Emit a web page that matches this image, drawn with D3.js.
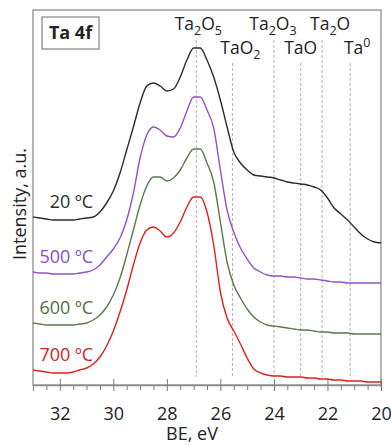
<!DOCTYPE html>
<html>
<head>
<meta charset="utf-8">
<script src="https://cdn.jsdelivr.net/npm/d3@7"></script>
<style>
  body { margin: 0; background: #fff; }
  text { font-family: "Open Sans", sans-serif; fill: #222; }
</style>
</head>
<body>
<div id="chart"></div>
<script>
// binding energy grid (eV), high -> low like the figure
const bindingEnergy = [33, 32.75, 32.5, 32.25, 32, 31.75, 31.5, 31.25, 31, 30.75, 30.5, 30.25,
  30, 29.75, 29.5, 29.25, 29, 28.75, 28.5, 28.25, 28, 27.75, 27.5, 27.25, 27, 26.75, 26.5,
  26.25, 26, 25.75, 25.5, 25.25, 25, 24.75, 24.5, 24.25, 24, 23.75, 23.5, 23.25, 23, 22.75,
  22.5, 22.25, 22, 21.75, 21.5, 21.25, 21, 20.75, 20.5, 20.25, 20];

// stacked intensities (a.u.)
const int20 = [168, 167, 166, 165, 165, 165, 165, 166, 167, 168, 173, 182, 194, 212, 235, 258,
  282, 299, 302, 299, 294, 296, 308, 325, 337, 337, 325, 308, 285, 258, 233, 222, 215, 210,
  209, 208, 207, 205, 203, 202, 201, 200, 198, 195, 187, 177, 171, 165, 158, 151, 146, 143, 142];
const int500 = [113, 112, 112, 111, 111, 111, 111, 112, 113, 115, 120, 128, 136, 147, 165, 192,
  227, 250, 258, 255, 249, 248, 257, 274, 288, 288, 275, 257, 215, 175, 153, 137, 126, 117,
  113, 110, 109, 109, 108, 108, 107, 106, 106, 105, 104, 103, 103, 102, 102, 102, 102, 102, 102];
const int600 = [62, 61, 60, 60, 60, 60, 60, 61, 62, 65, 70, 78, 90, 107, 130, 155, 180, 199,
  208, 208, 204, 207, 215, 227, 236, 236, 222, 203, 163, 123, 100, 87, 76, 68, 63, 60, 59, 58,
  57, 56, 55, 55, 54, 53, 53, 52, 52, 52, 51, 51, 51, 51, 51];
const int700 = [15, 14, 13, 12, 12, 12, 13, 15, 17, 21, 28, 39, 54, 73, 95, 120, 142, 155, 158,
  154, 148, 152, 163, 178, 188, 188, 173, 140, 93, 67, 54, 41, 27, 16, 12, 10, 9, 9, 8, 8, 8,
  7, 7, 6, 6, 5, 5, 4, 4, 4, 3, 3, 3];

const seriesNames = ["20 ºC", "500 ºC", "600 ºC", "700 ºC"];
const seriesValues = [int20, int500, int600, int700];
const seriesColors = ["#2b2b2b", "#9352c6", "#5b7a4c", "#e0201c"];
const labelColors = ["#2b2b2b", "#8a4cbe", "#4f6e40", "#cc1f1f"];

// reference positions of Ta species (eV)
const oxideNames = ["Ta_2O_5", "TaO_2", "Ta_2O_3", "TaO", "Ta_2O", "Ta^0"];
const oxideBE = [26.9, 25.55, 24.0, 23.0, 22.2, 21.15];

const xTicks = [32, 30, 28, 26, 24, 22, 20];

const W = 391, H = 445;
const svg = d3.select("#chart").append("svg")
  .attr("width", W).attr("height", H)
  .style("background", "#fff");

const pLeft = 33, pRight = 381, pTop = 10, pBottom = 385;

const x = d3.scaleLinear().domain([33, 20]).range([pLeft, pRight]);
const y = d3.scaleLinear().domain([0, 375]).range([pBottom, pTop]);

// frame
svg.append("rect")
  .attr("x", pLeft).attr("y", pTop)
  .attr("width", pRight - pLeft).attr("height", pBottom - pTop)
  .attr("fill", "none").attr("stroke", "#8c8c8c").attr("stroke-width", 1.3);

// dashed reference lines + labels
const labelShift = [2, 8, -1, 0, 8, 7];
oxideBE.forEach((be, i) => {
  const upper = i % 2 === 0;
  svg.append("line")
    .attr("x1", x(be)).attr("x2", x(be))
    .attr("y1", upper ? 40 : 63).attr("y2", 377)
    .attr("stroke", "#b0b0b0").attr("stroke-width", 1)
    .attr("stroke-dasharray", "3,2");

  const t = svg.append("text")
    .attr("x", x(be) + labelShift[i]).attr("y", upper ? 30 : 54)
    .attr("text-anchor", "middle")
    .style("font-size", "17.5px");
  let shift = 0;
  function addPart(txt, cls) {
    let dy;
    if (cls === "sub") dy = 5 - shift;
    else if (cls === "sup") dy = -7 - shift;
    else dy = -shift;
    shift += dy;
    t.append("tspan")
      .attr("dy", dy)
      .style("font-size", cls === "n" ? "17.5px" : "12.5px")
      .text(txt);
  }
  // split name into normal / sub / sup pieces
  oxideNames[i].split(/(?=[_^])/).forEach(p => {
    if (p[0] === "_" || p[0] === "^") {
      addPart(p.slice(1, 2), p[0] === "_" ? "sub" : "sup");
      if (p.length > 2) addPart(p.slice(2), "n");
    } else {
      addPart(p, "n");
    }
  });
});

// x axis
const axisG = svg.append("g").attr("transform", `translate(0,${pBottom})`);
const minorVals = [33, 32.5, 31.5, 31, 30.5, 29.5, 29, 28.5, 27.5, 27, 26.5, 25.5, 25, 24.5,
  23.5, 23, 22.5, 21.5, 21, 20.5];
axisG.append("g")
  .call(d3.axisBottom(x).tickValues(minorVals).tickSize(5).tickFormat(""))
  .call(g => g.select(".domain").remove())
  .call(g => g.selectAll("line").attr("stroke", "#777"));
axisG.append("g")
  .call(d3.axisBottom(x).tickValues(xTicks).tickSizeOuter(0).tickSize(6).tickPadding(16)
    .tickFormat(d3.format("d")))
  .call(g => g.select(".domain").attr("stroke", "#8c8c8c").attr("stroke-width", 1.3))
  .call(g => g.selectAll(".tick line").attr("y1", -6).attr("y2", 6).attr("stroke", "#777"))
  .call(g => g.selectAll("text").style("font-size", "18px")
    .style("font-family", "'Open Sans', sans-serif").attr("fill", "#222"));

svg.append("text")
  .attr("x", 192).attr("y", 440)
  .attr("text-anchor", "middle")
  .style("font-size", "18px")
  .text("BE, eV");

svg.append("text")
  .attr("transform", "translate(26,204) rotate(-90)")
  .attr("text-anchor", "middle")
  .style("font-size", "18px")
  .text("Intensity, a.u.");

// spectra
const line = d3.line()
  .x((d, i) => x(bindingEnergy[i]))
  .y(d => y(d))
  .curve(d3.curveMonotoneX);

seriesValues.forEach((vals, k) => {
  svg.append("path")
    .datum(vals)
    .attr("fill", "none")
    .attr("stroke", seriesColors[k])
    .attr("stroke-width", 1.4)
    .attr("d", line);

  svg.append("text")
    .attr("x", 93).attr("y", y(vals[0]) - 9)
    .attr("text-anchor", "end")
    .style("font-size", "18px")
    .style("fill", labelColors[k])
    .text(seriesNames[k]);
});

// Ta 4f box
svg.append("rect")
  .attr("x", 42).attr("y", 17).attr("width", 57).attr("height", 32)
  .attr("fill", "#fff").attr("stroke", "#8c8c8c").attr("stroke-width", 1.3);
svg.append("text")
  .attr("x", 70.5).attr("y", 39)
  .attr("text-anchor", "middle")
  .style("font-size", "18px").style("font-weight", "bold")
  .text("Ta 4f");
</script>
</body>
</html>
